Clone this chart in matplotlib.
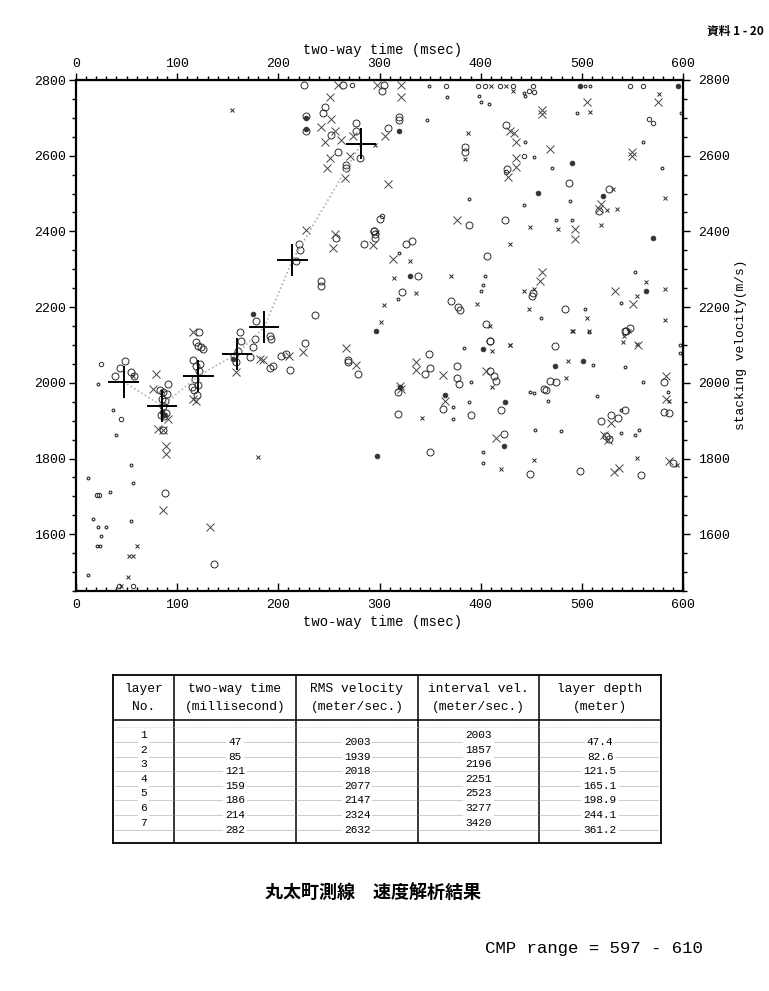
import matplotlib.pyplot as plt
from matplotlib.ticker import MultipleLocator

MONO = "Liberation Mono"
CJK = ["Noto Sans CJK JP", "DejaVu Sans"]

# picked layers (two-way time / RMS velocity)
pick_t = [47, 85, 121, 159, 186, 214, 282]
pick_v = [2003, 1939, 2018, 2077, 2147, 2324, 2632]

# table columns
layer_no = [1, 2, 3, 4, 5, 6, 7]
table_time = [47, 85, 121, 159, 186, 214, 282]
table_rms = [2003, 1939, 2018, 2077, 2147, 2324, 2632]
table_int = [2003, 1857, 2196, 2251, 2523, 3277, 3420]
table_depth = [47.4, 82.6, 121.5, 165.1, 198.9, 244.1, 361.2]

time_ticks = [0, 100, 200, 300, 400, 500, 600]
vel_ticks = [1600, 1800, 2000, 2200, 2400, 2600, 2800]

# semblance peaks (two-way time msec, velocity m/s)
circle_big = [
    (48, 2057), (43, 2038), (38.5, 2019), (54, 2028), (57, 2019),
    (83, 1980), (86, 1975), (89.5, 1971), (91, 1997), (85, 1958), (88, 1952), (86, 1940),
    (84, 1915), (87, 1912), (89, 1920), (86, 1875), (88, 1708),
    (121.7, 2133), (118.4, 2107), (120.7, 2098), (124, 2094), (125.7, 2089), (116, 2060),
    (119, 2045), (122, 2030), (118, 2010), (121, 1995), (117, 1980), (120, 1968), (123, 2050),
    (115, 1990), (162, 2133), (163.5, 2111), (176.7, 2116), (171.7, 2067), (175, 2094),
    (191.5, 2124), (193, 2117), (191.5, 2040), (195, 2045), (203, 2072), (208, 2076),
    (226, 2105), (212, 2035), (178, 2164), (156, 2070), (158, 2055), (160, 2085), (136, 1522),
    (246.4, 2728), (244, 2714), (227.7, 2705), (227.7, 2665), (252, 2655), (276.4, 2686),
    (276.4, 2664), (258.9, 2611), (266.5, 2576), (267, 2567), (280.3, 2594),
    (220.4, 2368), (221.7, 2352), (217.8, 2322), (257.3, 2383), (295, 2401), (296, 2383),
    (284.3, 2366), (241.8, 2269), (242.5, 2256), (235.9, 2179), (225, 2787), (263.8, 2787),
    (302.7, 2771), (304.3, 2787), (319, 2701), (319, 2694), (308.6, 2674), (424.7, 2680),
    (385, 2623), (385, 2611), (426, 2565), (487, 2528), (526.7, 2513), (516.9, 2453),
    (300.4, 2434), (388.5, 2416), (423.7, 2430), (294.5, 2401), (295.4, 2392), (326, 2367),
    (332.6, 2374), (406.3, 2335), (338.2, 2282), (322.4, 2241), (451.7, 2238), (451, 2230),
    (371, 2216), (377.7, 2199), (380, 2193), (483, 2195), (405, 2155), (543.8, 2138),
    (547.8, 2146), (409, 2111), (473, 2098), (268.4, 2060), (268.4, 2056), (278.9, 2024),
    (318.4, 1975), (318.4, 1917), (344.7, 2024), (349.6, 2038), (349, 2076), (376.6, 2044),
    (376.6, 2012), (378.6, 1997), (362.8, 1931), (390.7, 1914), (350.3, 1818), (408.8, 2110),
    (408.8, 2032), (412.8, 2019), (415.4, 2006), (420.4, 1927), (422.6, 1866), (449, 1758),
    (463, 1984), (464.8, 1980), (468.7, 2006), (474.6, 2002), (498.6, 1767), (519, 1898),
    (528.9, 1916), (535.5, 1907), (543, 1929), (543, 2138), (558.5, 1756), (581, 2002),
    (581, 1923), (586.5, 1921), (590.4, 1787), (524, 1860), (527, 1852),
]
circle_small = [
    (24.3, 2050), (44, 1905), (21, 1703), (23, 1703), (42.8, 1462), (55.9, 1462),
    (272.4, 2787), (365.5, 2785), (397.4, 2785), (404.7, 2785), (418.8, 2785), (432, 2785),
    (452, 2785), (447.8, 2772), (452.4, 2768), (548, 2785), (560.3, 2785), (425.4, 2556),
    (442.5, 2598), (570, 2686), (566, 2696), (302, 2440),
]
cross_big = [
    (78.6, 2022), (75.7, 1984), (91, 1905), (81.3, 1879), (86.2, 1875), (88.8, 1833),
    (88.8, 1813), (86.2, 1664), (115.8, 2133), (116, 1958), (119, 1953), (158, 2028),
    (181.6, 2063), (184.9, 2059), (211, 2072), (224, 2081), (132.3, 1620),
    (250.7, 2754), (252.3, 2696), (242.5, 2677), (255.6, 2664), (246.4, 2637), (262.2, 2642),
    (273.7, 2651), (270.4, 2598), (250.7, 2594), (248.4, 2567), (266, 2541), (227.7, 2405),
    (255.6, 2394), (254, 2355), (293.5, 2363), (258.9, 2787), (298, 2787), (320.8, 2787),
    (320.8, 2754), (305.3, 2652), (428.7, 2664), (432.6, 2661), (434.6, 2637), (468.8, 2617),
    (550, 2611), (550, 2598), (434.6, 2594), (434.6, 2569), (426.7, 2543), (308.6, 2525),
    (518.5, 2473), (516.9, 2459), (376.7, 2431), (492.8, 2407), (492.8, 2379), (312.9, 2326),
    (461, 2294), (459, 2269), (532.3, 2243), (550.4, 2208), (505, 2743), (461, 2722),
    (461, 2710), (575, 2741), (266.4, 2091), (277.2, 2046), (320, 1991), (321, 1984),
    (336.5, 2056), (336.5, 2035), (362.8, 2021), (364.4, 1951), (415.4, 1854), (404.9, 2032),
    (528.9, 1894), (522, 1862), (526, 1850), (532, 1765), (537, 1775), (555.2, 2101),
    (585.8, 1794), (583.2, 2019), (583.2, 1956),
]
cross_small = [
    (56.6, 2019), (154.3, 2722), (180, 1805), (52.3, 1543), (55.9, 1543), (51.6, 1486),
    (44.4, 1462), (59.9, 1569), (296, 2629), (432, 2772), (425, 2785), (410, 2785),
    (387, 2659), (385, 2591), (530.7, 2513), (524.7, 2456), (534.6, 2458), (582.6, 2487),
    (519.2, 2418), (449.1, 2412), (476.4, 2407), (428.7, 2368), (330.6, 2322), (314.2, 2278),
    (371, 2281), (563, 2267), (335.9, 2238), (442.5, 2243), (452.7, 2249), (582.3, 2247),
    (554.7, 2230), (396.8, 2208), (304.3, 2206), (447.8, 2196), (505, 2171), (582.6, 2167),
    (301, 2160), (409, 2149), (490.5, 2138), (507, 2136), (541.8, 2124), (554.7, 2102),
    (428.7, 2100), (411.1, 2085), (428.6, 2101), (342.4, 1907), (411.5, 1989), (420.4, 1771),
    (452.6, 1795), (486.5, 2057), (484.5, 2012), (491, 2138), (540.4, 2109), (546.3, 2138),
    (554.6, 1802), (585.8, 1951), (594, 1782), (576, 2763), (508.3, 2716), (298, 2398),
]
dots = [
    (22, 1996), (36.8, 1927), (39.5, 1863), (12, 1749), (16.4, 1640), (22, 1618),
    (29.6, 1619), (24.3, 1594), (21, 1568), (23.6, 1568), (33.5, 1712), (12, 1491),
    (54, 1784), (56, 1736), (54, 1636), (349, 2785), (366.8, 2756), (398.4, 2758),
    (400.7, 2741), (408.3, 2737), (443, 2765), (443.5, 2758), (502.7, 2785), (508.3, 2785),
    (495, 2712), (347, 2694), (443.5, 2635), (560.3, 2637), (579.4, 2567), (598, 2712),
    (452.7, 2596), (470.8, 2567), (388.5, 2486), (442.5, 2471), (488.6, 2480), (474.7, 2430),
    (490.5, 2430), (319.5, 2342), (552.7, 2294), (404.7, 2281), (402.4, 2258), (400.7, 2243),
    (318.5, 2221), (538.9, 2210), (502.7, 2195), (460, 2171), (384, 2091), (390.7, 2002),
    (372.6, 1936), (372.6, 1905), (388.4, 1949), (402.3, 1816), (402.3, 1789), (448.3, 1977),
    (452.9, 1973), (466.4, 1951), (454.2, 1876), (510.8, 2047), (515.1, 1964), (479, 1872),
    (538.8, 1929), (538.8, 1868), (543, 2043), (560, 2003), (553, 1863), (556.9, 1875),
    (584.8, 1975), (597.4, 2079), (506.9, 2135), (597, 2100),
]
blobs = [
    (87, 1915), (85, 1922), (319, 2666), (456.6, 2501), (490.5, 2582), (520.8, 2494),
    (473, 2044), (501, 2057), (402.3, 2089), (424.3, 1949), (422.6, 1833), (298, 1806),
    (297, 2136), (498.4, 2785), (594.8, 2785), (570.8, 2383), (330.6, 2281), (563, 2243),
    (364.4, 1967), (227.7, 2700), (227.7, 2670), (175, 2181), (155, 2062), (320, 1988),
]


def plot_points(ax, pts, **kw):
    ax.plot([p[0] for p in pts], [p[1] for p in pts], linestyle="none", **kw)


def style_ticks(axis_obj, direction, pad):
    axis_obj.set_tick_params(which="both", direction=direction, pad=pad,
                             labelsize=9.5, width=1)
    axis_obj.set_tick_params(which="major", length=5)
    axis_obj.set_tick_params(which="minor", length=3)
    for lab in axis_obj.get_ticklabels():
        lab.set_family(MONO)


def make_velocity_plot(fig):
    ax = fig.add_axes([76 / 769, 1 - 591 / 991, 607 / 769, 511 / 991])
    ax.set_xlim(0, 600)
    ax.set_ylim(1450, 2800)

    ink = "#2a2a2a"
    plot_points(ax, circle_big, marker="o", ms=5, mfc="none", mec=ink, mew=0.7)
    plot_points(ax, circle_small, marker="o", ms=3.2, mfc="none", mec=ink, mew=0.7)
    plot_points(ax, cross_big, marker="x", ms=6, mec="#444444", mew=0.7)
    plot_points(ax, cross_small, marker="x", ms=3.5, mec=ink, mew=0.7)
    plot_points(ax, dots, marker="o", ms=2, mfc="none", mec=ink, mew=0.8)
    plot_points(ax, blobs, marker="o", ms=3.4, mfc="#333333", mec="#333333", mew=0.6)

    ax.plot(pick_t, pick_v, linestyle=(0, (1, 1.5)), color="#b0b0b0", lw=1.2)
    ax.errorbar(pick_t, pick_v, xerr=15, yerr=42, fmt="none", ecolor="black",
                elinewidth=1.4, capsize=0)

    for s in ax.spines.values():
        s.set_linewidth(1.6)

    ax.set_xticks(time_ticks)
    ax.xaxis.set_minor_locator(MultipleLocator(10))
    ax.set_yticks(vel_ticks)
    ax.yaxis.set_minor_locator(MultipleLocator(50))
    style_ticks(ax.xaxis, "in", 6)
    ax.xaxis.set_tick_params(which="major", length=6)
    style_ticks(ax.yaxis, "out", 2)

    top = ax.secondary_xaxis("top")
    top.set_xticks(time_ticks)
    top.xaxis.set_minor_locator(MultipleLocator(10))
    style_ticks(top.xaxis, "out", 2)

    right = ax.secondary_yaxis("right")
    right.set_yticks(vel_ticks)
    right.yaxis.set_minor_locator(MultipleLocator(50))
    style_ticks(right.yaxis, "out", 6)

    fig.text(383 / 769, 1 - 50 / 991, "two-way time (msec)", family=MONO,
             fontsize=10, ha="center", va="center")
    fig.text(383 / 769, 1 - 622 / 991, "two-way time (msec)", family=MONO,
             fontsize=10, ha="center", va="center")
    fig.text(741 / 769, 1 - 345 / 991, "stacking velocity(m/s)", family=MONO,
             fontsize=9.3, ha="center", va="center", rotation=90)


def make_table(fig):
    left, right, top, bottom = 113, 661, 675, 843
    ax = fig.add_axes([left / 769, 1 - bottom / 991, (right - left) / 769,
                       (bottom - top) / 991])
    ax.set_xlim(left, right)
    ax.set_ylim(bottom, top)
    ax.set_xticks([])
    ax.set_yticks([])
    for s in ax.spines.values():
        s.set_linewidth(1.3)

    edges = [113, 174, 296, 418, 539, 661]
    head_y = 720
    for x in edges[1:-1]:
        ax.plot([x, x], [top, bottom], color="black", lw=1.1)
    ax.plot([left, right], [head_y, head_y], color="black", lw=1.1)

    headers = [("layer", "No."), ("two-way time", "(millisecond)"),
               ("RMS velocity", "(meter/sec.)"), ("interval vel.", "(meter/sec.)"),
               ("layer depth", "(meter)")]
    centers = [(edges[i] + edges[i + 1]) / 2 for i in range(5)]
    for c, (h1, h2) in zip(centers, headers):
        ax.text(c, 689, h1, family=MONO, fontsize=9.3, ha="center", va="center")
        ax.text(c, 707, h2, family=MONO, fontsize=9.3, ha="center", va="center")

    step = 14.6
    for i in range(7):
        yv = 742 + i * step
        ax.plot([left + 2, right - 2], [yv, yv], color="#8a8a8a", lw=0.6,
                linestyle=(0, (1.2, 1.2)))
    ax.plot([left + 2, right - 2], [727, 727], color="#c8c8c8", lw=0.5,
            linestyle=(0, (1.2, 1.2)))

    box = dict(facecolor="white", edgecolor="none", pad=1.5)
    for i in range(7):
        yl = 735 + i * step
        yv = 742 + i * step
        ax.text(centers[0], yl, str(layer_no[i]), family=MONO, fontsize=8,
                ha="center", va="center", bbox=box)
        ax.text(centers[3], yl, str(table_int[i]), family=MONO, fontsize=8,
                ha="center", va="center", bbox=box)
        ax.text(centers[1], yv, str(table_time[i]), family=MONO, fontsize=8,
                ha="center", va="center", bbox=box)
        ax.text(centers[2], yv, str(table_rms[i]), family=MONO, fontsize=8,
                ha="center", va="center", bbox=box)
        ax.text(centers[4], yv, f"{table_depth[i]:.1f}", family=MONO, fontsize=8,
                ha="center", va="center", bbox=box)


def main():
    fig = plt.figure(figsize=(7.69, 9.91), dpi=100)

    make_velocity_plot(fig)
    make_table(fig)

    fig.text(735 / 769, 1 - 31 / 991, "資料 1 - 20", family=CJK, fontsize=8.5,
             weight="bold", ha="center", va="center")
    fig.text(373 / 769, 1 - 893 / 991, "丸太町測線　速度解析結果", family=CJK,
             fontsize=13, weight="bold", ha="center", va="center")
    fig.text(594 / 769, 1 - 948 / 991, "CMP range = 597 - 610", family=MONO,
             fontsize=12.5, ha="center", va="center")

    fig.savefig("out.png", dpi=100)


if __name__ == '__main__':
    main()
